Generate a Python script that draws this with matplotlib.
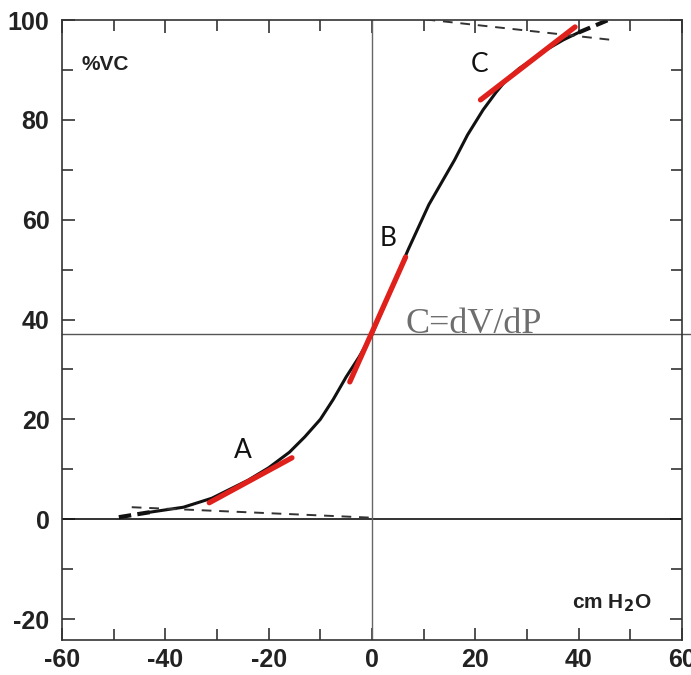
import numpy as np
import matplotlib
matplotlib.use('Agg')
from matplotlib import pyplot as plt

plt.rcParams['axes.unicode_minus'] = False

# pressure-volume curve
pressure = [-43, -36.5, -31, -24, -20, -16, -13, -10, -7.5, -5, -2.5, 0, 3.5, 7, 11, 13.5,
            16, 18.5, 21.5, 24, 26, 28.5, 31, 34, 37, 40]
volume = [1.4, 2.4, 4.2, 7.8, 10.3, 13.4, 16.5, 20, 24, 28.5, 32.5, 37, 45.5, 54, 63, 67.5,
          72, 77, 82, 85.5, 88, 90.3, 92, 94.2, 96, 97.5]

# dashed ends of the curve
tail_low_x = [-49, -43]
tail_low_y = [0.4, 1.4]
tail_high_x = [40, 48]
tail_high_y = [97.5, 101]

# dashed asymptote lines
asym_low_x = [-46.5, 0]
asym_low_y = [2.4, 0.3]
asym_high_x = [7, 46.5]
asym_high_y = [100.5, 96]

# red tangents
tan_a_x, tan_a_y = [-31.5, -15.5], [3.3, 12.3]
tan_b_x, tan_b_y = [-4.3, 6.5], [27.5, 52.5]
tan_c_x, tan_c_y = [21, 39.3], [84, 98.6]

frc_level = 37

x_ticks = [-60, -40, -20, 0, 20, 40, 60]
y_ticks = [-20, 0, 20, 40, 60, 80, 100]

num_font = ['Liberation Sans', 'DejaVu Sans']

fig = plt.figure(figsize=(6.91, 6.75), dpi=100)
ax = fig.add_axes([62/691, 35/675, 620/691, 620/675])

ax.axhline(0, color='#111111', lw=1.2)
ax.axhline(frc_level, color='#555555', lw=1.0, xmax=1.02, clip_on=False)
ax.axvline(0, color='#666666', lw=1.0)

ax.plot(pressure, volume, color='#111111', lw=2.2, solid_capstyle='round', solid_joinstyle='round')
ax.plot(tail_low_x, tail_low_y, color='#111111', lw=3, ls=(0, (3, 1.5)))
ax.plot(tail_high_x, tail_high_y, color='#111111', lw=3, ls=(0, (3, 1.5)))
ax.plot(asym_low_x, asym_low_y, color='#333333', lw=1.4, ls=(0, (5, 4)))
ax.plot(asym_high_x, asym_high_y, color='#333333', lw=1.4, ls=(0, (5, 4)))

for tx, ty in [(tan_a_x, tan_a_y), (tan_b_x, tan_b_y), (tan_c_x, tan_c_y)]:
    ax.plot(tx, ty, color='#e0201b', lw=3.8, solid_capstyle='round')

ax.text(-25, 13.8, 'A', fontsize=19, family='Lato', ha='center', va='center', color='#111111')
ax.text(3.1, 56.3, 'B', fontsize=19, family='Lato', ha='center', va='center', color='#111111')
ax.text(20.9, 91, 'C', fontsize=19, family='Lato', ha='center', va='center', color='#111111')
ax.text(6.5, 37.3, 'C=dV/dP', fontsize=26, family='Liberation Serif', ha='left', va='baseline', color='#6e6e6e')
ax.text(-51.6, 91, '%VC', fontsize=15, family=num_font, fontweight='bold', ha='center', va='center', color='#222222')
ax.text(46.4, -16.8, r'cm H$_\mathbf{2}$O', fontsize=15, family=num_font, fontweight='bold', ha='center', va='center', color='#222222')

ax.set_xlim(-60, 60)
ax.set_ylim(-24.2, 100)
ax.set_xticks(x_ticks)
ax.set_yticks(y_ticks)
ax.set_xticks(np.arange(-50, 60, 10), minor=True)
ax.set_yticks(np.arange(-20, 100, 10), minor=True)
ax.tick_params(which='both', direction='in', top=True, right=True, color='#333333', width=1.2)
ax.tick_params(which='major', length=9)
ax.tick_params(which='minor', length=8)
ax.tick_params(axis='y', pad=9)
ax.tick_params(axis='x', pad=6)
for lab in ax.get_xticklabels() + ax.get_yticklabels():
    lab.set_family(num_font)
    lab.set_fontweight('bold')
    lab.set_fontsize(18)
    lab.set_color('#222222')
for s in ax.spines.values():
    s.set_color('#333333')
    s.set_linewidth(1.2)

fig.savefig('out.png', dpi=100)
